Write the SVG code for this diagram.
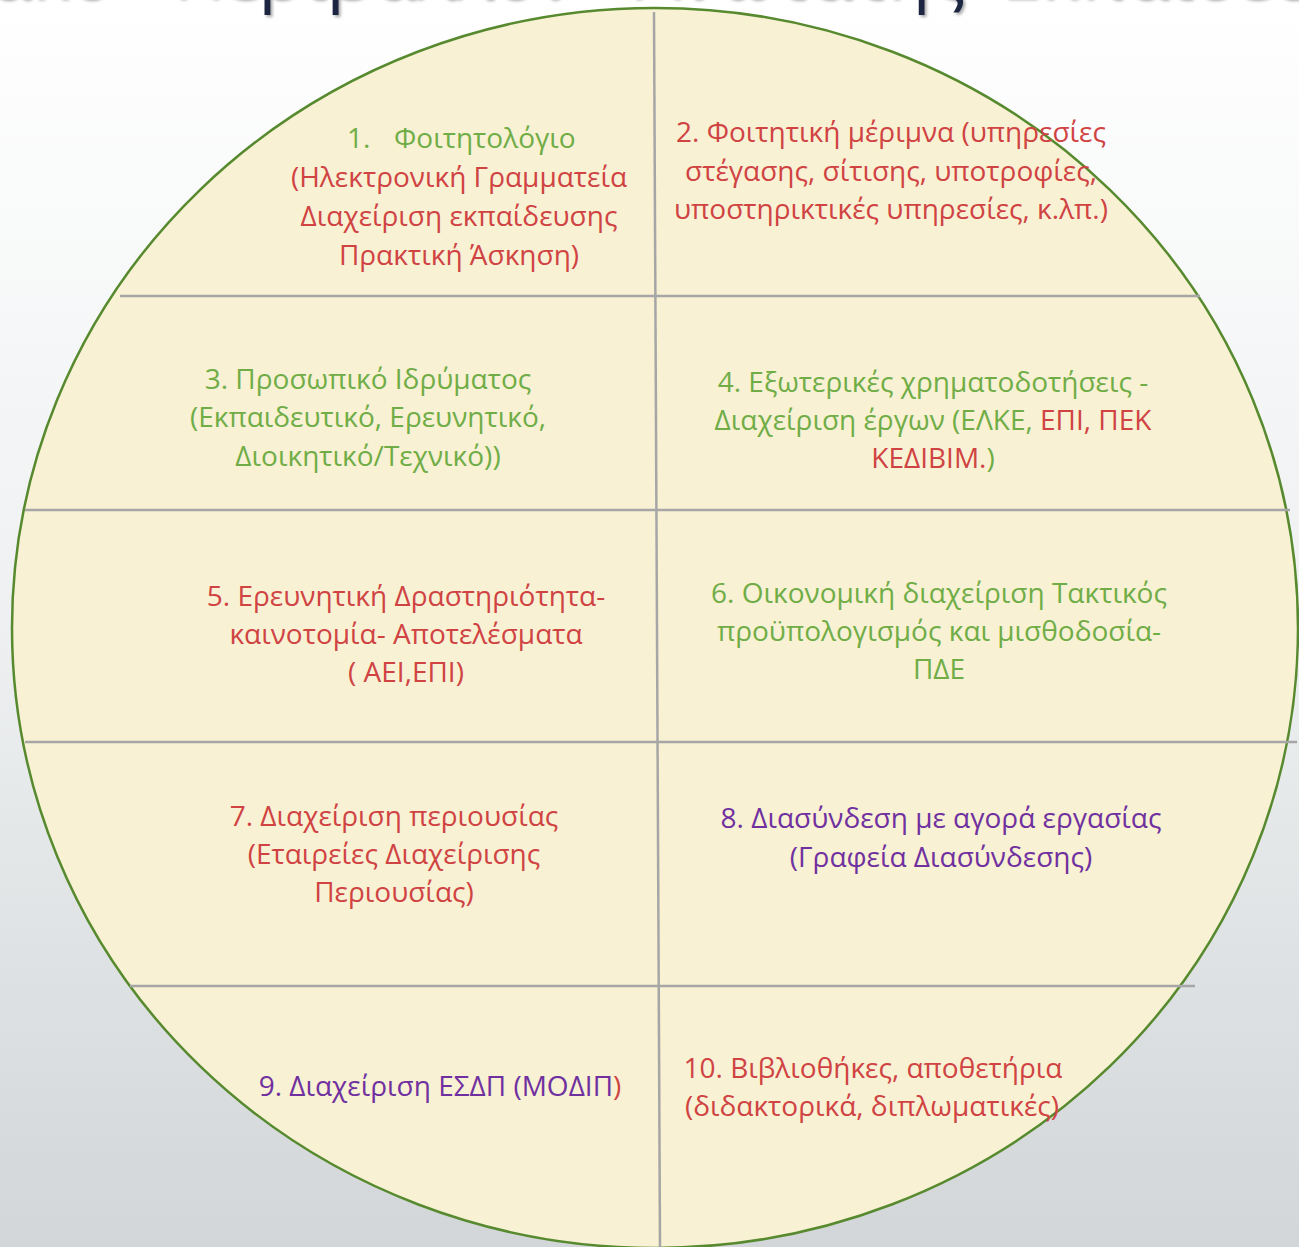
<svg xmlns="http://www.w3.org/2000/svg" width="1299" height="1247" viewBox="0 0 1299 1247">
<defs>
<linearGradient id="bg" x1="0" y1="0" x2="0" y2="1">
<stop offset="0" stop-color="#ffffff"/>
<stop offset="0.5" stop-color="#eef0f1"/>
<stop offset="1" stop-color="#d2d6d8"/>
</linearGradient>
<filter id="sh" x="-5%" y="-50%" width="110%" height="200%">
<feDropShadow dx="2" dy="2" stdDeviation="1.5" flood-color="#000" flood-opacity="0.35"/>
</filter>
<style>
.t{font-family:"Open Sans","Noto Sans","DejaVu Sans",sans-serif;font-size:28px;text-anchor:middle}
.g{fill:#70ad47}
.r{fill:#d04343}
.p{fill:#7030a0}
.div{stroke:#a6a6a6;stroke-width:2.5;fill:none}
.title{font-family:"Open Sans","Noto Sans",sans-serif;font-size:72px;fill:#1d2540}
</style>
</defs>
<rect x="0" y="0" width="1299" height="1247" fill="url(#bg)"/>
<g id="title" filter="url(#sh)">
<text class="title" x="112" y="-2" text-anchor="end">Πληροφοριακό</text>
<text class="title" y="-2"><tspan x="172">Περιβάλλον</tspan><tspan x="634">Ανώτατης</tspan><tspan x="1000">Εκπαίδευσης</tspan></text>
</g>
<g id="circle">
<ellipse cx="655" cy="628" rx="643" ry="620" fill="#f8f1d3" stroke="#578a2f" stroke-width="2.5"/>
</g>
<g id="connectors">
<line class="div" x1="654" y1="12" x2="660" y2="1247"/>
<line class="div" x1="120" y1="296" x2="1200" y2="296"/>
<line class="div" x1="25" y1="510" x2="1290" y2="510"/>
<line class="div" x1="25" y1="742" x2="1297" y2="742"/>
<line class="div" x1="130" y1="986" x2="1195" y2="986"/>
</g>
<g id="node1">
<text class="t g" style="text-anchor:start" y="148"><tspan x="347">1.</tspan><tspan x="394">Φοιτητολόγιο</tspan></text>
<text class="t r" x="459" y="187">(Ηλεκτρονική Γραμματεία</text>
<text class="t r" x="459" y="226">Διαχείριση εκπαίδευσης</text>
<text class="t r" x="459" y="265">Πρακτική Άσκηση)</text>
</g>
<g id="node2">
<text class="t r" x="891" y="142">2. Φοιτητική μέριμνα (υπηρεσίες</text>
<text class="t r" x="891" y="181">στέγασης, σίτισης, υποτροφίες,</text>
<text class="t r" x="891" y="219">υποστηρικτικές υπηρεσίες, κ.λπ.)</text>
</g>
<g id="node3">
<text class="t g" x="368" y="389">3. Προσωπικό Ιδρύματος</text>
<text class="t g" x="368" y="427">(Εκπαιδευτικό, Ερευνητικό,</text>
<text class="t g" x="368" y="466">Διοικητικό/Τεχνικό))</text>
</g>
<g id="node4">
<text class="t g" x="933" y="392">4. Εξωτερικές χρηματοδοτήσεις -</text>
<text class="t g" x="933" y="430">Διαχείριση έργων (ΕΛΚΕ, <tspan class="r">ΕΠΙ, ΠΕΚ</tspan></text>
<text class="t r" x="933" y="468">ΚΕΔΙΒΙΜ.<tspan class="g">)</tspan></text>
</g>
<g id="node5">
<text class="t r" x="406" y="606">5. Ερευνητική Δραστηριότητα-</text>
<text class="t r" x="406" y="644">καινοτομία- Αποτελέσματα</text>
<text class="t r" x="406" y="682">( ΑΕΙ,ΕΠΙ)</text>
</g>
<g id="node6">
<text class="t g" x="939" y="603">6. Οικονομική διαχείριση Τακτικός</text>
<text class="t g" x="939" y="641">προϋπολογισμός και μισθοδοσία-</text>
<text class="t g" x="939" y="679">ΠΔΕ</text>
</g>
<g id="node7">
<text class="t r" x="394" y="826">7. Διαχείριση περιουσίας</text>
<text class="t r" x="394" y="864">(Εταιρείες Διαχείρισης</text>
<text class="t r" x="394" y="902">Περιουσίας)</text>
</g>
<g id="node8">
<text class="t p" x="941" y="828">8. Διασύνδεση με αγορά εργασίας</text>
<text class="t p" x="941" y="867">(Γραφεία Διασύνδεσης)</text>
</g>
<g id="node9">
<text class="t p" x="440" y="1096">9. Διαχείριση ΕΣΔΠ (ΜΟΔΙΠ<tspan class="r">)</tspan></text>
</g>
<g id="node10">
<text class="t r" x="873" y="1078">10. Βιβλιοθήκες, αποθετήρια</text>
<text class="t r" x="872" y="1116">(διδακτορικά, διπλωματικές)</text>
</g>
</svg>
